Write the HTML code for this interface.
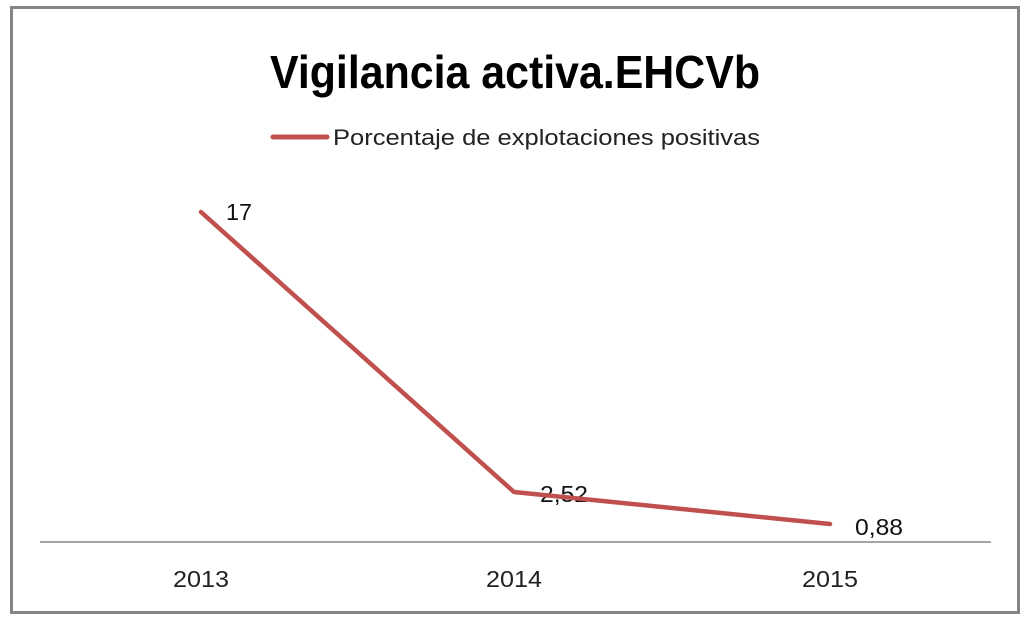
<!DOCTYPE html>
<html><head><meta charset="utf-8"><style>
html,body{margin:0;padding:0;background:#fff;}
</style></head><body>
<svg width="1024" height="620" xmlns="http://www.w3.org/2000/svg" font-family="'Liberation Sans', 'DejaVu Sans', sans-serif">
<rect x="0" y="0" width="1024" height="620" fill="#fff"/>
<rect x="11.5" y="7.5" width="1007" height="605" fill="#fff" stroke="#858585" stroke-width="3"/>
<text x="270" y="88" font-size="46" font-weight="bold" fill="#000" textLength="490" lengthAdjust="spacingAndGlyphs">Vigilancia activa.EHCVb</text>
<line x1="273" y1="137" x2="327" y2="137" stroke="#c0504d" stroke-width="5" stroke-linecap="round"/>
<text x="333" y="145" font-size="22" fill="#222" textLength="427" lengthAdjust="spacingAndGlyphs">Porcentaje de explotaciones positivas</text>
<line x1="40" y1="542" x2="991" y2="542" stroke="#888" stroke-width="1.5"/>
<text x="226" y="220" font-size="23" fill="#111" textLength="26" lengthAdjust="spacingAndGlyphs">17</text>
<text x="540" y="502" font-size="23" fill="#111" textLength="48" lengthAdjust="spacingAndGlyphs">2,52</text>
<text x="855" y="535" font-size="23" fill="#111" textLength="48" lengthAdjust="spacingAndGlyphs">0,88</text>
<polyline points="201,212 514,492 830,524" fill="none" stroke="#c0504d" stroke-width="4.5" stroke-linejoin="round" stroke-linecap="round"/>
<text x="173" y="587" font-size="23" fill="#222" textLength="56" lengthAdjust="spacingAndGlyphs">2013</text>
<text x="486" y="587" font-size="23" fill="#222" textLength="56" lengthAdjust="spacingAndGlyphs">2014</text>
<text x="802" y="587" font-size="23" fill="#222" textLength="56" lengthAdjust="spacingAndGlyphs">2015</text>
</svg>
</body></html>
